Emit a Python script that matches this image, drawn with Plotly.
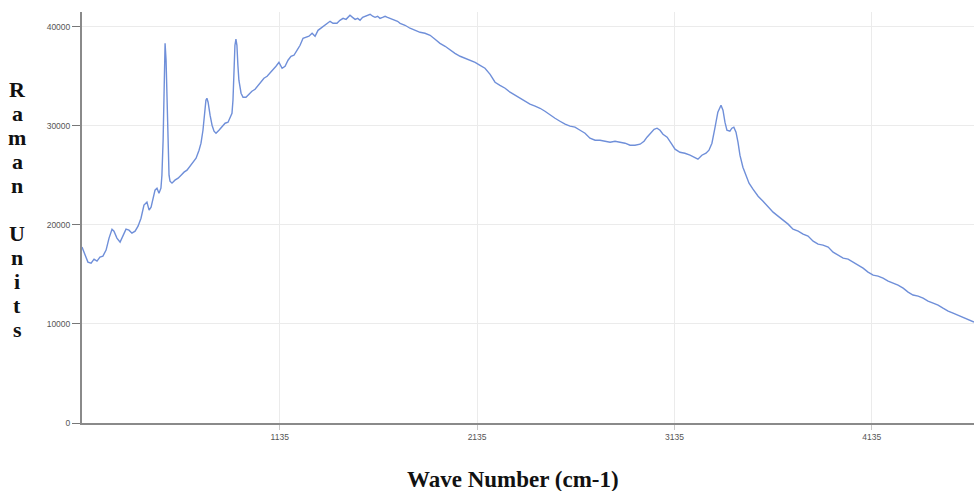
import plotly.graph_objects as go

# Raman spectrum
wave_number = [
    133, 148, 163, 179, 194, 209, 224, 239, 255, 270, 285, 295, 310, 326, 341, 356, 371, 386, 402, 417,
    432, 447, 462, 473, 483, 493, 503, 513, 523, 533, 538, 544, 549, 554, 559, 564, 569, 574, 579, 589,
    604, 620, 635, 650, 665, 680, 696, 711, 726, 736, 746, 756, 761, 766, 772, 782, 792, 802, 812, 827,
    843, 858, 873, 883, 893, 898, 903, 908, 913, 918, 923, 928, 939, 949, 964, 979, 994, 1010, 1025, 1040,
    1055, 1071, 1086, 1101, 1116, 1131, 1147, 1162, 1177, 1192, 1207, 1223, 1238, 1253, 1268, 1283, 1299,
    1314, 1329, 1344, 1359, 1374, 1390, 1405, 1425, 1440, 1456, 1471, 1491, 1504, 1517, 1530, 1542, 1555,
    1567, 1580, 1593, 1606, 1618, 1631, 1643, 1656, 1669, 1681, 1694, 1707, 1719, 1732, 1745, 1770, 1795,
    1821, 1846, 1871, 1897, 1922, 1947, 1973, 1998, 2023, 2049, 2074, 2099, 2125, 2150, 2175, 2201, 2226,
    2251, 2277, 2302, 2327, 2353, 2378, 2403, 2429, 2454, 2479, 2505, 2530, 2555, 2581, 2606, 2631, 2657,
    2682, 2707, 2733, 2758, 2783, 2809, 2834, 2859, 2885, 2910, 2935, 2961, 2981, 2996, 3012, 3032, 3047,
    3062, 3077, 3098, 3118, 3138, 3163, 3188, 3214, 3239, 3254, 3274, 3295, 3310, 3325, 3340, 3355, 3371,
    3381, 3391, 3401, 3416, 3426, 3436, 3447, 3457, 3467, 3482, 3498, 3513, 3533, 3559, 3584, 3610, 3635,
    3660, 3686, 3711, 3736, 3762, 3787, 3812, 3838, 3863, 3888, 3914, 3939, 3964, 3990, 4015, 4040, 4066,
    4091, 4116, 4142, 4167, 4192, 4218, 4243, 4268, 4294, 4319, 4344, 4370, 4395, 4420, 4446, 4471, 4496,
    4522, 4547, 4572, 4598, 4623, 4653,
]

raman_units = [
    17760, 16950, 16250, 16140, 16550, 16350, 16750, 16850, 17460, 18670, 19570, 19370, 18670, 18260, 18870, 19570, 19470, 19170, 19370, 19880,
    20680, 22000, 22300, 21490, 21790, 22600, 23510, 23710, 23210, 23710, 25020, 28550, 34610, 38340, 36630, 31580, 27040, 25020, 24420, 24220,
    24520, 24720, 25020, 25330, 25530, 25930, 26330, 26740, 27550, 28250, 29560, 31580, 32590, 32790, 32390, 31080, 30070, 29460, 29260, 29560,
    29970, 30270, 30370, 30770, 31280, 32590, 35620, 38140, 38750, 38140, 36120, 34610, 33300, 32890, 32890, 33200, 33500, 33700, 34100, 34410,
    34810, 35010, 35320, 35720, 36020, 36420, 35820, 36020, 36630, 37030, 37130, 37640, 38140, 38850, 38950, 39050, 39350,
    39050, 39650, 39860, 40060, 40260, 40560, 40360, 40360, 40660, 40860, 40760, 41170, 40960, 40760, 40860, 40660, 40960,
    41070, 41170, 41270, 41070, 40960, 41070, 40860, 40960, 41070, 40960, 40860, 40760, 40660, 40560, 40360, 40160, 39860,
    39650, 39450, 39350, 39150, 38750, 38340, 38040, 37640, 37330, 37030, 36830, 36630, 36420, 36120, 35820, 35210, 34410,
    34100, 33800, 33400, 33100, 32790, 32490, 32190, 31990, 31780, 31480, 31080, 30770, 30470, 30170, 29970, 29870, 29560,
    29260, 28760, 28550, 28550, 28450, 28350, 28450, 28350, 28250, 28050, 28050, 28150, 28450, 28860, 29260, 29660, 29770,
    29560, 29160, 28860, 28250, 27650, 27340, 27240, 27040, 26840, 26640, 27040, 27240, 27550, 28250, 29770, 31380, 32090,
    31580, 30370, 29560, 29460, 29770, 29870, 29360, 28350, 27040, 25830, 24920, 24220, 23610, 22900, 22400, 21790, 21290,
    20890, 20480, 20080, 19570, 19370, 19070, 18870, 18360, 18060, 17960, 17760, 17250, 16950, 16650, 16550, 16240, 15940,
    15640, 15240, 14930, 14830, 14630, 14330, 14130, 13920, 13620, 13220, 12920, 12810, 12610, 12310, 12110, 11910, 11600,
    11300, 11100, 10900, 10700, 10490, 10190,
]

x_tick_values = [1135, 2135, 3135, 4135]
y_tick_values = [0, 10000, 20000, 30000, 40000]
x_title = "Wave Number (cm-1)"
y_title = "Raman Units"

W, H = 974, 491
L, R, T, B = 82, 0, 12, 68
pw, ph = W - L - R, H - T - B


def px_to_paper_x(px):
    return (px - L) / pw


def px_to_paper_y(py):
    return 1 - (py - T) / ph


fig = go.Figure()
fig.add_trace(go.Scatter(
    x=wave_number, y=raman_units, mode="lines",
    line=dict(color="#6f8fd9", width=1.4), showlegend=False,
))

annotations = [dict(
    text=f"<b>{x_title}</b>", xref="paper", yref="paper",
    x=px_to_paper_x(513), y=px_to_paper_y(479), xanchor="center", yanchor="middle",
    showarrow=False, font=dict(family="Liberation Serif", size=23, color="#111"),
)]
for k, ch in enumerate(y_title):
    if ch == " ":
        continue
    annotations.append(dict(
        text=f"<b>{ch}</b>", xref="paper", yref="paper",
        x=px_to_paper_x(17), y=px_to_paper_y(89.6 + 24 * k),
        xanchor="center", yanchor="middle", showarrow=False,
        font=dict(family="Liberation Serif", size=22, color="#111"),
    ))

fig.update_layout(
    width=W, height=H,
    margin=dict(l=L, r=R, t=T, b=B, pad=0),
    paper_bgcolor="white", plot_bgcolor="white",
    annotations=annotations,
    xaxis=dict(
        range=[133, 4653], tickvals=x_tick_values, ticktext=[str(v) for v in x_tick_values],
        showgrid=True, gridcolor="#ebebeb", gridwidth=1,
        showline=True, linecolor="#8a8a8a", linewidth=2,
        ticks="outside", ticklen=5, tickcolor="#c8c8c8", tickwidth=1,
        tickfont=dict(family="Liberation Sans", size=8.5, color="#555"),
        zeroline=False, fixedrange=True,
    ),
    yaxis=dict(
        range=[0, 41500], tickvals=y_tick_values, ticktext=[str(v) for v in y_tick_values],
        showgrid=True, gridcolor="#ebebeb", gridwidth=1,
        showline=True, linecolor="#8a8a8a", linewidth=2,
        ticks="outside", ticklen=8, tickcolor="#777", tickwidth=1,
        tickfont=dict(family="Liberation Sans", size=8.5, color="#555"),
        zeroline=False, fixedrange=True,
    ),
)

fig.write_html("out.html")
